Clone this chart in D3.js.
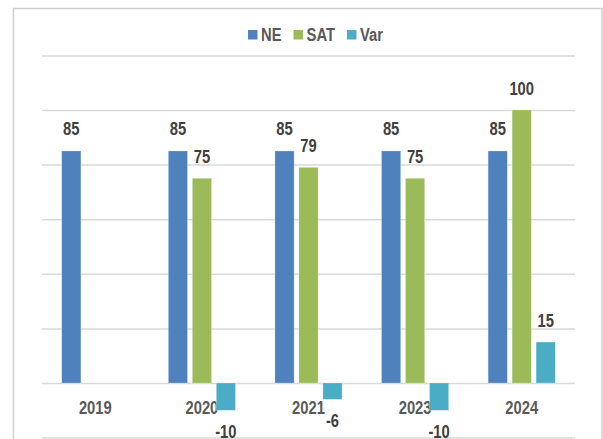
<!DOCTYPE html>
<html>
<head>
<meta charset="utf-8">
<script src="https://cdn.jsdelivr.net/npm/d3@7"></script>
<style>
  body { margin: 0; background: #fff; }
  text { font-family: "Liberation Sans Narrow", "Liberation Sans", Arial, sans-serif; font-weight: bold; }
</style>
</head>
<body>
<div id="chart"></div>
<script>
// data
const years = ["2019", "2020", "2021", "2023", "2024"];
const seriesNames = ["NE", "SAT", "Var"];
const neValues = [85, 85, 85, 85, 85];
const satValues = [null, 75, 79, 75, 100];
const varValues = [null, -10, -6, -10, 15];
const yTicks = [-20, 0, 20, 40, 60, 80, 100, 120];
const colors = ["#4f81bd", "#9bbb59", "#4bacc6"];

let W = 603, H = 439;
let margin = {top: 55, right: 28, bottom: 0, left: 42};
let width = W - margin.left - margin.right;

// squeeze text to look like a narrow face
function narrow(sel) {
    sel.each(function() {
        let len = this.getComputedTextLength();
        this.__len = len * 0.82;
        d3.select(this)
            .attr("textLength", this.__len)
            .attr("lengthAdjust", "spacingAndGlyphs");
    });
}

let svg = d3.select("#chart")
    .append("svg")
        .attr("width", W)
        .attr("height", H);

// outer border
svg.append("rect")
    .attr("x", 13.5)
    .attr("y", 8.5)
    .attr("width", 588.5)
    .attr("height", 460)
    .attr("fill", "#fff")
    .attr("stroke", "#d0d0d0")
    .attr("stroke-width", 1.5);

let g = svg.append("g")
    .attr("transform", "translate(" + margin.left + ",0)");

// scales
let y = d3.scaleLinear()
    .domain([-20, 120])
    .range([437.6, 55.4]);

let x0 = d3.scaleBand()
    .domain(years)
    .range([0, width])
    .paddingInner(0.37)
    .paddingOuter(0.185);

let x1 = d3.scaleBand()
    .domain(seriesNames)
    .range([0, x0.bandwidth()])
    .paddingInner(0.2);

// grid lines
g.append("g")
    .call(d3.axisLeft(y).tickValues(yTicks).tickSize(-width).tickFormat(""))
    .call(s => s.select(".domain").remove())
    .selectAll("line")
        .attr("stroke", "#d9d9d9")
        .attr("stroke-width", 1.5);

// category labels
g.append("g")
    .attr("transform", "translate(0," + y(0) + ")")
    .call(d3.axisBottom(x0).tickSize(0).tickPadding(18))
    .call(s => s.select(".domain").remove())
    .selectAll("text")
        .style("font-size", "18px")
        .attr("font-family", null)
        .attr("fill", "#595959")
        .call(narrow);

// bars
let rows = [];
years.forEach(function(yr, i) {
    [neValues, satValues, varValues].forEach(function(arr, j) {
        if (arr[i] !== null) rows.push({year: yr, key: seriesNames[j], value: arr[i], color: colors[j]});
    });
});

g.selectAll("rect.bar")
    .data(rows)
    .enter()
    .append("rect")
        .attr("class", "bar")
        .attr("x", function(d) { return x0(d.year) + x1(d.key); })
        .attr("y", function(d) { return y(Math.max(0, d.value)); })
        .attr("width", x1.bandwidth())
        .attr("height", function(d) { return Math.abs(y(d.value) - y(0)); })
        .attr("fill", function(d) { return d.color; })
        .attr("stroke", "#ffffff")
        .attr("stroke-opacity", 0.4)
        .attr("stroke-width", 0.6);

// value labels
g.selectAll("text.lbl")
    .data(rows)
    .enter()
    .append("text")
        .attr("class", "lbl")
        .attr("x", function(d) { return x0(d.year) + x1(d.key) + x1.bandwidth() / 2; })
        .attr("y", function(d) { return d.value >= 0 ? y(d.value) - 15.5 : y(d.value) + 27.5; })
        .attr("text-anchor", "middle")
        .style("font-size", "18px")
        .attr("fill", "#404040")
        .text(function(d) { return d.value; })
        .call(narrow);

// legend
let legend = svg.append("g");
let lx = 0;
seriesNames.forEach(function(name, i) {
    let item = legend.append("g").attr("transform", "translate(" + lx + ",0)");
    item.append("rect")
        .attr("x", 0).attr("y", 30)
        .attr("width", 9.5).attr("height", 9.5)
        .attr("fill", colors[i]);
    let t = item.append("text")
        .attr("x", 13).attr("y", 41)
        .style("font-size", "18px")
        .attr("fill", "#595959")
        .text(name)
        .call(narrow);
    lx += 13 + t.node().__len + 12;
});
let legendW = lx - 12;
legend.attr("transform", "translate(" + (315.5 - legendW / 2) + ",0)");
</script>
</body>
</html>
